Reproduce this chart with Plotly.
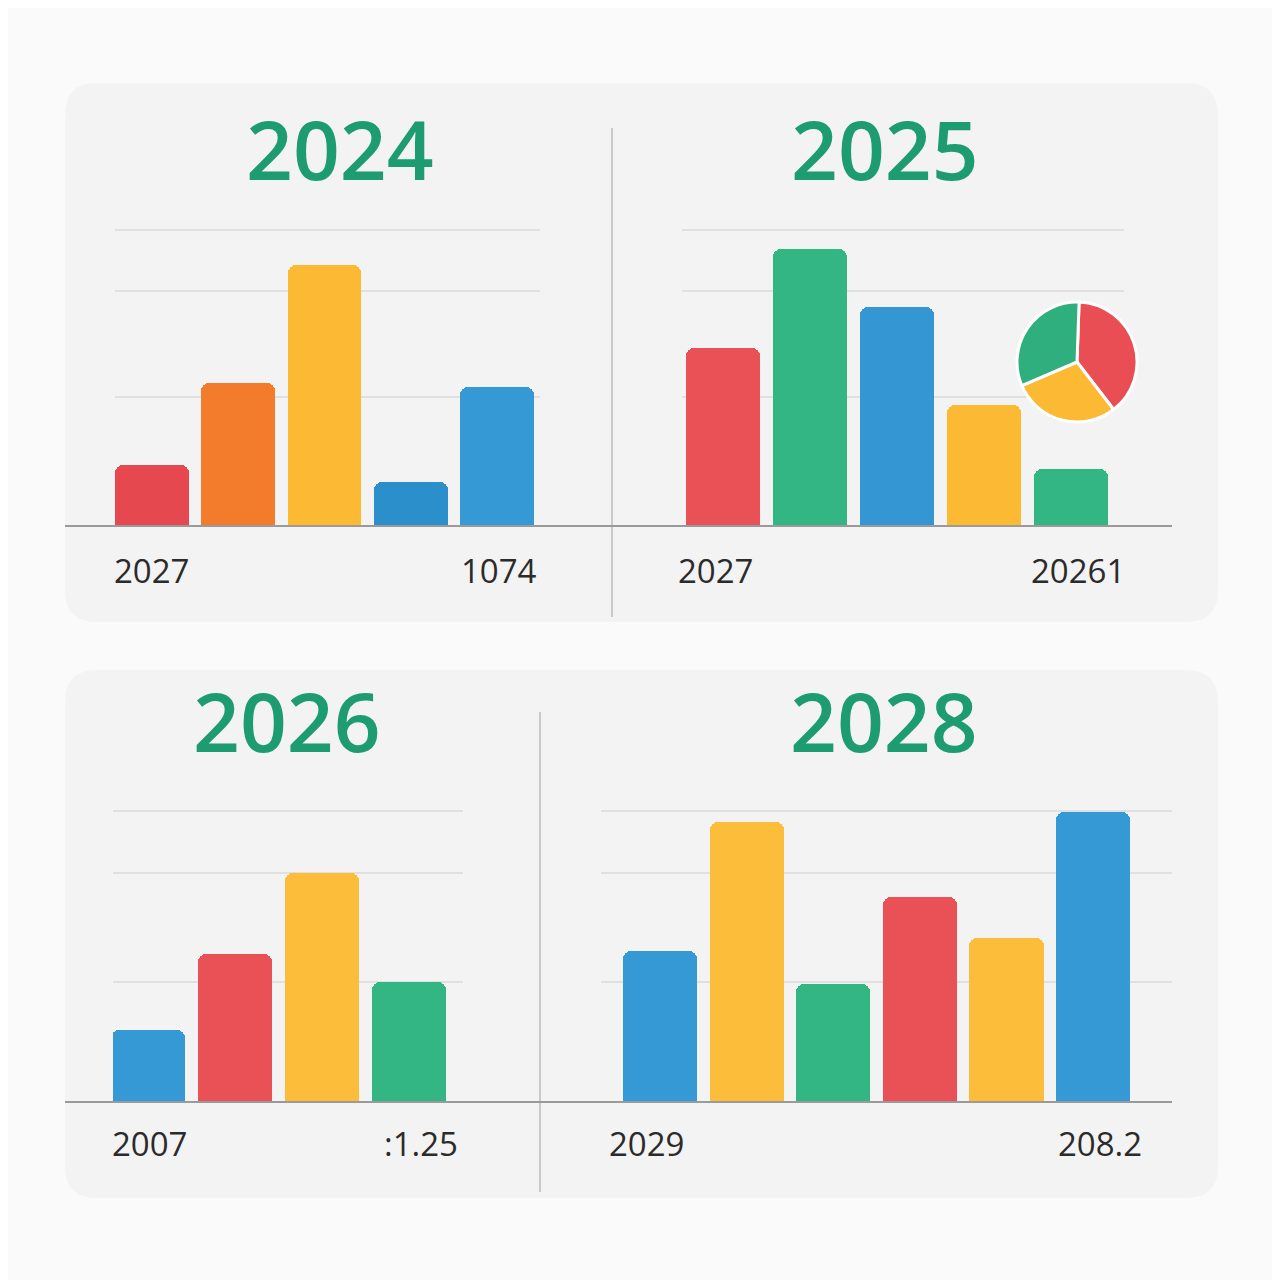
import plotly.graph_objects as go

W = H = 1280
OFF = 8  # page body margin compensation

# ---------------- data ----------------
titles = ["2024", "2025", "2026", "2028"]
left_labels = ["2027", "2027", "2007", "2029"]
right_labels = ["1074", "20261", ":1.25", "208.2"]

tl_values = [61, 143, 261, 44, 139]
tl_colors = ["#e5484f", "#f27b2c", "#fbb934", "#2b8fcc", "#3499d5"]

tr_values = [178, 277, 219, 121, 57]
tr_colors = ["#ea5156", "#34b584", "#3497d3", "#fbb934", "#34b584"]

bl_values = [72, 148, 229, 120]
bl_colors = ["#3499d5", "#ea5156", "#fbbd3a", "#34b584"]

br_values = [151, 280, 118, 205, 164, 290]
br_colors = ["#3499d5", "#fbbd3a", "#34b584", "#ea5156", "#fbbd3a", "#3499d5"]

pie_labels = ["A", "B", "C"]
pie_values = [39, 29, 32]
pie_colors = ["#e94e54", "#fbb934", "#2fae7e"]

grid_top = [129, 235, 296]
grid_bottom = [120, 229, 291]

# ---------------- helpers ----------------
def px(x):
    return (x - OFF) / W

def py(y):
    return 1 - (y - OFF) / H

def rounded_rect(x0, y0, x1, y1, r):
    X = lambda v: f"{px(v):.5f}"
    Y = lambda v: f"{py(v):.5f}"
    return (f"M {X(x0+r)},{Y(y0)} L {X(x1-r)},{Y(y0)} Q {X(x1)},{Y(y0)} {X(x1)},{Y(y0+r)} "
            f"L {X(x1)},{Y(y1-r)} Q {X(x1)},{Y(y1)} {X(x1-r)},{Y(y1)} "
            f"L {X(x0+r)},{Y(y1)} Q {X(x0)},{Y(y1)} {X(x0)},{Y(y1-r)} "
            f"L {X(x0)},{Y(y0+r)} Q {X(x0)},{Y(y0)} {X(x0+r)},{Y(y0)} Z")

fig = go.Figure()

charts = [
    (tl_values, tl_colors, (115, 540), (-0.43, 4.5), 526, grid_top),
    (tr_values, tr_colors, (682, 1124), (-0.47, 4.61), 526, grid_top),
    (bl_values, bl_colors, (113, 463), (-0.4, 3.62), 1102, grid_bottom),
    (br_values, br_colors, (601, 1172), (-0.68, 5.91), 1102, grid_bottom),
]

layout_axes = {}
for i, (vals, cols, xd, xr, base, gv) in enumerate(charts, start=1):
    xa = "x" if i == 1 else f"x{i}"
    ya = "y" if i == 1 else f"y{i}"
    fig.add_trace(go.Bar(
        x=list(range(len(vals))), y=vals,
        marker=dict(color=cols, cornerradius=8, line=dict(width=0)),
        width=0.855, xaxis=xa, yaxis=ya, showlegend=False, hoverinfo="y",
    ))
    xname = "xaxis" if i == 1 else f"xaxis{i}"
    yname = "yaxis" if i == 1 else f"yaxis{i}"
    layout_axes[xname] = dict(domain=[px(xd[0]), px(xd[1])], range=list(xr),
                              showgrid=False, zeroline=False, showticklabels=False,
                              showline=False, anchor=ya, fixedrange=True)
    layout_axes[yname] = dict(domain=[py(base), py(base - 300)], range=[0, 300],
                              tickvals=gv, showgrid=True, gridcolor="#e0e0e0",
                              gridwidth=1.5, zeroline=False, showticklabels=False,
                              showline=False, anchor=xa, fixedrange=True)

fig.add_trace(go.Pie(
    labels=pie_labels, values=pie_values, sort=False, direction="clockwise",
    rotation=2, marker=dict(colors=pie_colors, line=dict(color="#ffffff", width=3)),
    textinfo="none", hoverinfo="label+percent", showlegend=False,
    domain=dict(x=[px(1017), px(1137)], y=[py(422), py(302)]),
))

shapes = []
for (x0, y0, x1, y1) in [(65, 83, 1218, 622), (65, 670, 1218, 1198)]:
    shapes.append(dict(type="path", path=rounded_rect(x0, y0, x1, y1, 32),
                       xref="paper", yref="paper", fillcolor="#f3f3f3",
                       line=dict(width=0), layer="below"))
shapes.append(dict(type="line", xref="paper", yref="paper", x0=px(612), x1=px(612),
                   y0=py(128), y1=py(617), line=dict(color="#c9c9c9", width=2)))
shapes.append(dict(type="line", xref="paper", yref="paper", x0=px(540), x1=px(540),
                   y0=py(712), y1=py(1192), line=dict(color="#c9c9c9", width=2)))
for yb in (526, 1102):
    shapes.append(dict(type="line", xref="paper", yref="paper", x0=px(65), x1=px(1172),
                       y0=py(yb), y1=py(yb), line=dict(color="#9a9a9a", width=2)))

annotations = []
title_pos = [(340, 148), (885, 148), (287, 720), (884, 720)]
for t, (x, y) in zip(titles, title_pos):
    annotations.append(dict(text=t, x=px(x), y=py(y), xref="paper", yref="paper",
                            xanchor="center", yanchor="middle", showarrow=False,
                            font=dict(family="Open Sans", size=82, color="#1d9c71",
                                      weight=600)))
left_pos = [(112, 570), (676, 570), (110, 1143), (607, 1143)]
right_pos = [(539, 570), (1127, 570), (460, 1143), (1144, 1143)]
for t, (x, y) in zip(left_labels, left_pos):
    annotations.append(dict(text=t, x=px(x), y=py(y), xref="paper", yref="paper",
                            xanchor="left", yanchor="middle", showarrow=False,
                            font=dict(family="Open Sans", size=33, color="#2b2b2b")))
for t, (x, y) in zip(right_labels, right_pos):
    annotations.append(dict(text=t, x=px(x), y=py(y), xref="paper", yref="paper",
                            xanchor="right", yanchor="middle", showarrow=False,
                            font=dict(family="Open Sans", size=33, color="#2b2b2b")))

fig.update_layout(
    width=W, height=H, margin=dict(l=0, r=0, t=0, b=0),
    paper_bgcolor="#fafafa", plot_bgcolor="rgba(0,0,0,0)",
    shapes=shapes, annotations=annotations, bargap=0,
    **layout_axes,
)

fig.write_html("out.html")
